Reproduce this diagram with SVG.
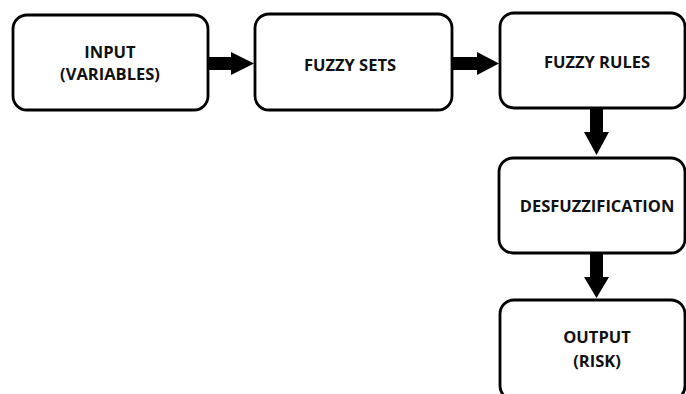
<svg xmlns="http://www.w3.org/2000/svg" width="686" height="394" viewBox="0 0 686 394">
<style>
.box{fill:#fff;stroke:#000;stroke-width:2.8}
.t{font-family:"Open Sans","Liberation Sans",sans-serif;font-weight:bold;font-size:16.5px;fill:#111;text-anchor:middle}
.arr{fill:#000}
</style>
<rect width="686" height="394" fill="#fff"/>
<g id="input"><rect class="box" x="13" y="15" width="195" height="95" rx="14"/><text class="t" x="110" y="58">INPUT</text><text class="t" x="110" y="80">(VARIABLES)</text></g>
<g id="fuzzy-sets"><rect class="box" x="255" y="14" width="197" height="96" rx="14"/><text class="t" x="350" y="71">FUZZY SETS</text></g>
<g id="fuzzy-rules"><rect class="box" x="500" y="13" width="185" height="95" rx="14"/><text class="t" x="597" y="68">FUZZY RULES</text></g>
<g id="desfuzzification"><rect class="box" x="499" y="158" width="186" height="95" rx="14"/><text class="t" x="597" y="212">DESFUZZIFICATION</text></g>
<g id="output"><rect class="box" x="500" y="300" width="185" height="100" rx="14"/><text class="t" x="597" y="343">OUTPUT</text><text class="t" x="597" y="367">(RISK)</text></g>
<g id="connectors">
<polygon class="arr" points="208,57 231,57 231,52 254,63.5 231,75 231,70 208,70"/>
<polygon class="arr" points="452,57 477,57 477,52 499,63.5 477,75 477,70 452,70"/>
<polygon class="arr" points="590,108 603,108 603,132 609,132 596.5,155 584,132 590,132"/>
<polygon class="arr" points="590,253 603,253 603,277 609,277 596.5,298 584,277 590,277"/>
</g>
</svg>
